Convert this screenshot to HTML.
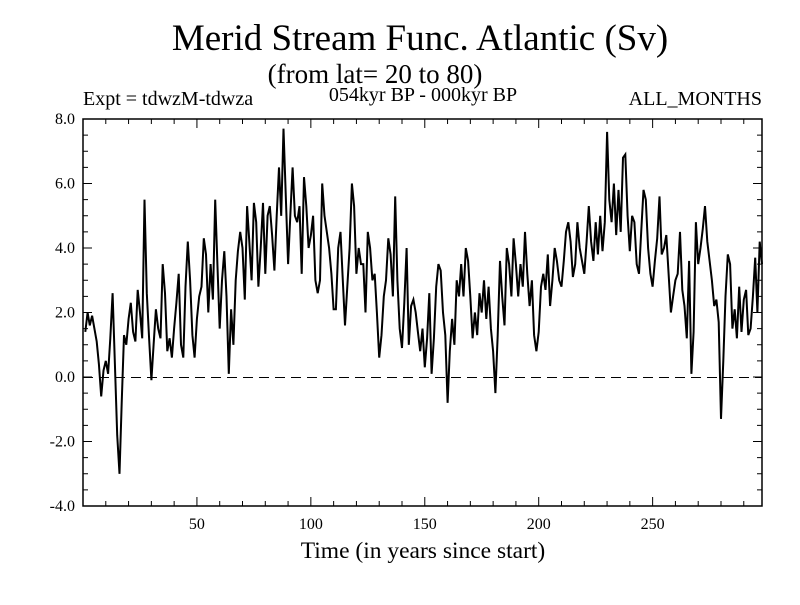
<!DOCTYPE html>
<html><head><meta charset="utf-8"><style>
body{margin:0;background:#fff}
svg text{font-family:"Liberation Serif",serif;fill:#000}
</style></head><body>
<svg id="chart" width="800" height="600" xmlns="http://www.w3.org/2000/svg">
<text x="420" y="50" font-size="37" text-anchor="middle">Merid Stream Func. Atlantic (Sv)</text>
<text x="375" y="83" font-size="27" text-anchor="middle">(from lat= 20 to 80)</text>
<text x="83" y="105" font-size="20">Expt = tdwzM-tdwza</text>
<text x="423" y="101" font-size="20" text-anchor="middle">054kyr BP - 000kyr BP</text>
<text x="762" y="105" font-size="20" text-anchor="end">ALL_MONTHS</text>
<text x="423" y="558" font-size="23.5" text-anchor="middle">Time (in years since start)</text>
<g id="axes"></g>
<g id="series"></g>
<rect x="83" y="119" width="679" height="387" fill="none" stroke="#000" stroke-width="1.5"/>
</svg>
<script>
const values=[1.4,2.0,1.6,1.9,1.5,1.1,0.4,-0.6,0.2,0.5,
0.1,1.2,2.6,0.4,-1.8,-3.0,-0.8,1.3,1.0,1.8,
2.3,1.4,1.1,2.7,2.0,1.2,5.5,2.6,1.2,-0.1,
1.0,2.1,1.5,1.2,3.5,2.6,0.8,1.2,0.6,1.5,
2.3,3.2,1.0,0.6,2.8,4.2,3.0,1.3,0.6,1.8,
2.5,2.8,4.3,3.8,2.0,3.5,2.4,5.5,3.5,1.5,
3.0,3.9,2.5,0.1,2.1,1.0,3.0,3.9,4.5,4.0,
2.4,5.3,4.2,3.0,5.4,4.8,2.8,4.0,5.4,3.2,
5.0,5.3,4.4,3.3,5.0,6.5,5.0,7.7,5.6,3.5,
5.0,6.5,5.0,4.8,5.3,3.2,6.2,5.3,4.0,4.4,
5.0,3.0,2.6,3.0,6.0,5.0,4.5,4.0,3.2,2.1,
2.1,4.0,4.5,3.0,1.6,2.8,4.0,6.0,5.3,3.2,
4.0,3.5,3.5,2.0,4.5,4.0,3.0,3.2,2.0,0.6,
1.3,2.5,3.0,4.3,3.8,2.5,5.6,3.0,1.5,0.9,
2.3,4.0,1.0,2.2,2.4,2.0,1.4,0.8,1.5,0.3,
1.2,2.6,0.1,1.2,2.8,3.5,3.3,2.0,1.3,-0.8,
0.8,1.8,1.0,3.0,2.5,3.5,2.5,4.0,3.6,2.5,
1.2,2.0,1.3,2.6,2.0,3.0,1.8,2.8,1.5,0.8,
-0.5,1.3,3.6,2.5,1.6,4.0,3.5,2.5,4.3,3.5,
2.5,3.5,2.8,4.5,3.2,2.2,3.0,1.3,0.8,1.4,
2.8,3.2,2.7,3.8,2.2,3.0,4.0,3.6,3.0,2.8,
3.6,4.5,4.8,4.2,3.1,3.5,4.8,4.0,3.6,3.2,
4.2,5.3,4.2,3.6,4.8,3.8,5.0,3.9,4.8,7.6,
5.5,4.8,6.0,4.4,5.8,4.5,6.8,6.9,5.0,3.9,
5.0,4.8,3.5,3.2,4.5,5.8,5.5,4.0,3.2,2.8,
3.6,4.3,5.6,3.8,4.0,4.4,3.2,2.0,2.5,3.0,
3.2,4.5,2.7,2.2,1.2,3.6,0.1,1.4,4.8,3.5,
4.0,4.6,5.3,4.2,3.6,3.0,2.2,2.4,1.7,-1.3,
0.5,2.5,3.8,3.5,1.5,2.1,1.2,2.8,1.4,2.4,
2.7,1.3,1.5,2.5,3.7,2.0,4.2,3.5];
const xTickLabels=[50,100,150,200,250];
const yTickLabels=[-4,-2,0,2,4,6,8];
const xDomain=[0,298];
const yDomain=[-4,8];
const L=83,R=762,T=119,B=506;
const sx=v=>L+(v-xDomain[0])/(xDomain[1]-xDomain[0])*(R-L);
const sy=v=>B-(v-yDomain[0])/(yDomain[1]-yDomain[0])*(B-T);
const NS="http://www.w3.org/2000/svg";
const axes=document.getElementById('axes'),series=document.getElementById('series');
function mk(tag,attrs,parent){const e=document.createElementNS(NS,tag);for(const k in attrs)e.setAttribute(k,attrs[k]);parent.appendChild(e);return e;}
for(let t=10;t<xDomain[1];t+=10){const x=sx(t),len=(t%50===0)?9:5;
const a=mk('line',{x1:x,x2:x,y1:B,y2:B-len,stroke:'#000','stroke-width':1},axes);


const b=mk('line',{x1:x,x2:x,y1:T,y2:T+len,stroke:'#000','stroke-width':1},axes);

}
xTickLabels.forEach(t=>{const e=mk('text',{x:sx(t),y:B+23,'font-size':16,'text-anchor':'middle'},axes);e.textContent=t;

});
for(let v=yDomain[0];v<=yDomain[1]+1e-9;v+=0.5){const y=sy(v),len=(Math.abs(v%2)<1e-9)?9:5;
const a=mk('line',{x1:L,x2:L+len,y1:y,y2:y,stroke:'#000','stroke-width':1},axes);


const b=mk('line',{x1:R,x2:R-len,y1:y,y2:y,stroke:'#000','stroke-width':1},axes);

}
yTickLabels.forEach(v=>{const e=mk('text',{x:L-8,y:sy(v)+5,'font-size':16,'text-anchor':'end'},axes);e.textContent=v.toFixed(1);

});
const z=mk('line',{x1:L,x2:R,y1:Math.round(sy(0))+0.5,y2:Math.round(sy(0))+0.5,stroke:'#000','stroke-width':1,'stroke-dasharray':'10,6'},series);


const pts=values.map((v,i)=>sx(i+1).toFixed(1)+','+sy(v).toFixed(1)).join(' ');
const pl=mk('polyline',{points:pts,fill:'none',stroke:'#000','stroke-width':2,'stroke-linejoin':'miter'},series);


</script>
</body></html>
